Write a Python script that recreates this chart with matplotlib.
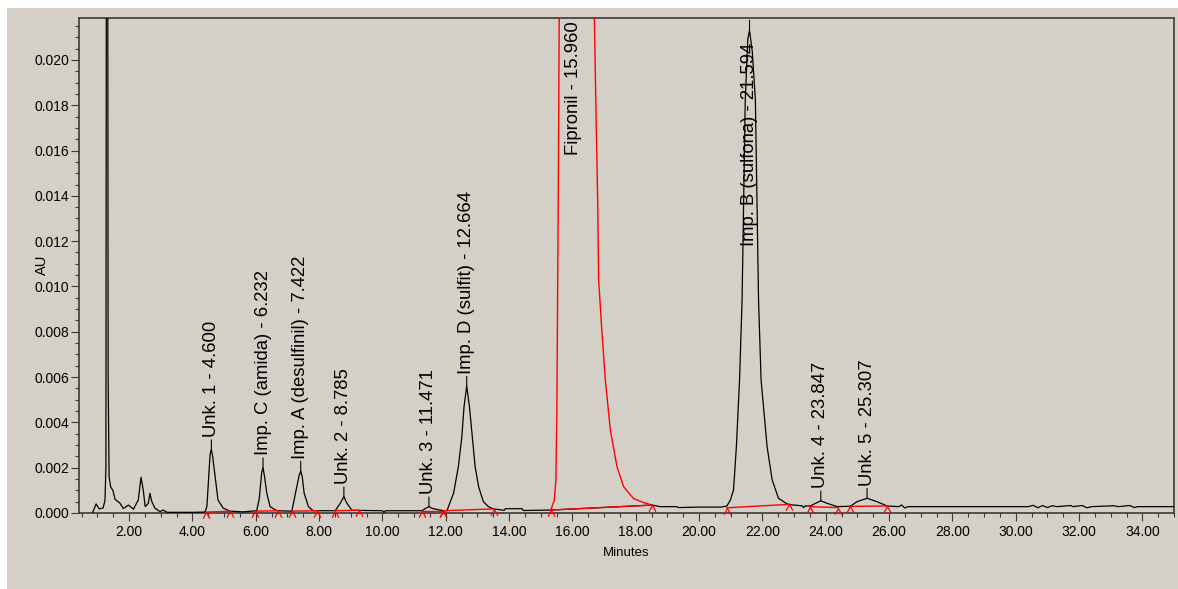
import matplotlib.pyplot as plt
import numpy as np
from matplotlib.path import Path
from matplotlib.patches import Rectangle
from matplotlib.ticker import MultipleLocator, FuncFormatter

# chromatogram trace, minutes vs AU
trace_min = [0.85, 0.96, 1.06, 1.18, 1.24, 1.27, 1.305, 1.34, 1.37, 1.42, 1.49, 1.56, 1.71, 1.82,
             1.98, 2.14, 2.29, 2.38, 2.45, 2.51, 2.61, 2.66, 2.72, 2.82, 2.98, 3.08, 3.20, 4.00, 4.40,
             4.46, 4.51, 4.56, 4.60, 4.64, 4.72, 4.81, 4.97, 5.19,
             5.60, 6.03, 6.11, 6.19, 6.232, 6.28, 6.35, 6.455, 6.67,
             7.14, 7.30, 7.37, 7.422, 7.47, 7.53, 7.665, 7.82,
             8.51, 8.67, 8.785, 8.88, 9.04,
             10.0, 10.05, 10.1, 11.25, 11.36, 11.471, 11.58, 11.93,
             12.04, 12.25, 12.40, 12.51, 12.58, 12.664, 12.75, 12.83, 12.93, 13.04, 13.19, 13.35, 13.51,
             13.85, 13.88, 14.41, 14.45, 15.32,
             18.52, 18.78, 19.30, 19.35, 20.00, 20.70, 20.88,
             20.99, 21.09, 21.18, 21.28, 21.36, 21.46, 21.54, 21.594, 21.68, 21.78, 21.88, 21.96,
             22.15, 22.31, 22.51, 22.78, 22.99,
             23.25, 23.30, 23.35, 23.52, 23.68, 23.847, 24.04, 24.36,
             24.78, 24.99, 25.307, 25.62, 25.94,
             26.30, 26.40, 26.50, 26.60, 30.40, 30.55, 30.70, 30.85, 31.00, 31.15, 31.30,
             31.75, 31.80, 32.10, 32.25, 32.40, 33.10, 33.25, 33.60, 33.75, 33.85, 35.0]
trace_au = [0.00002, 0.00040, 0.00018, 0.00022, 0.00055, 0.0020, 0.0600, 0.0060, 0.0016, 0.00115,
            0.00100, 0.00060, 0.00044, 0.00020,
            0.00035, 0.00017, 0.00057, 0.00158, 0.00100, 0.00028, 0.00043, 0.00087, 0.00050, 0.00021,
            0.00006, 0.00013, 0.00003, 0.00003, 0.00004,
            0.00030, 0.00146, 0.00260, 0.00280, 0.00250, 0.00160, 0.00057, 0.00022, 0.00008,
            0.00005, 0.00010, 0.00060, 0.00180, 0.00200, 0.00160, 0.00088, 0.00028, 0.00010,
            0.00008, 0.00116, 0.00165, 0.00185, 0.00160, 0.00088, 0.00028, 0.00010,
            0.00010, 0.00043, 0.00072, 0.00043, 0.00012,
            0.00010, 0.00003, 0.00010, 0.00010, 0.00020, 0.00028, 0.00020, 0.00010,
            0.00010, 0.00088, 0.00204, 0.00337, 0.00470, 0.00560, 0.00470, 0.00353, 0.00204,
            0.00116, 0.00050, 0.00028, 0.00018,
            0.00012, 0.00019, 0.00019, 0.00011, 0.00013,
            0.00035, 0.00028, 0.00028, 0.00024, 0.00026, 0.00026, 0.00031,
            0.00057, 0.00102, 0.00293, 0.00587, 0.00940, 0.01823, 0.02090, 0.02130, 0.02040,
            0.01823, 0.00940, 0.00587,
            0.00293, 0.00146, 0.00065, 0.00040, 0.00035,
            0.00032, 0.00024, 0.00031, 0.00031, 0.00043, 0.00054, 0.00043, 0.00028,
            0.00030, 0.00050, 0.00065, 0.00050, 0.00031,
            0.00028, 0.00035, 0.00022, 0.00028, 0.00028, 0.00034, 0.00023, 0.00033, 0.00024,
            0.00032, 0.00028,
            0.00033, 0.00028, 0.00033, 0.00023, 0.00028, 0.00032, 0.00028, 0.00033, 0.00024,
            0.00028, 0.00028]

# main peak (Fipronil), drawn in red; goes off scale
fip_min = [15.32, 15.43, 15.48, 15.51, 15.555, 15.585, 15.62, 15.96, 16.66, 16.70, 16.74,
           16.80, 16.83, 16.93, 17.04, 17.20, 17.41, 17.62, 17.93, 18.25, 18.52]
fip_au = [0.00013, 0.00057, 0.00146, 0.0044, 0.0138, 0.0219, 0.030, 0.12, 0.026, 0.0215, 0.0182,
          0.0138, 0.0103, 0.0081, 0.0059, 0.00366, 0.00204, 0.00116, 0.00064, 0.00046, 0.00035]

# peak table
peak_names = ['Unk. 1', 'Imp. C (amida)', 'Imp. A (desulfinil)', 'Unk. 2', 'Unk. 3',
              'Imp. D (sulfit)', 'Fipronil', 'Imp. B (sulfona)', 'Unk. 4', 'Unk. 5']
peak_rt = [4.600, 6.232, 7.422, 8.785, 11.471, 12.664, 15.960, 21.594, 23.847, 25.307]
peak_au = [0.00280, 0.00200, 0.00185, 0.00072, 0.00028, 0.00560, 0.12, 0.02130, 0.00054, 0.00065]

# integration baselines (start / end)
bl_start_min = [4.43, 5.98, 7.14, 8.51, 11.25, 11.93, 15.32, 20.88, 23.49, 24.78]
bl_start_au = [0.00004, 0.00008, 0.00008, 0.00010, 0.00010, 0.00010, 0.00013, 0.00023, 0.00028, 0.00029]
bl_end_min = [5.19, 6.71, 7.95, 9.25, 11.93, 13.51, 18.52, 22.83, 24.38, 25.94]
bl_end_au = [0.00008, 0.00010, 0.00010, 0.00012, 0.00010, 0.00018, 0.00035, 0.00038, 0.00024, 0.00031]

bg = '#d4d0c8'
font = ['Liberation Sans', 'DejaVu Sans']
ytop = 0.02185

fig = plt.figure(figsize=(11.78, 5.89), dpi=100)
fig.patch.set_facecolor('white')
fig.patches.append(Rectangle((7 / 1178, 0), 1, 1 - 8 / 589, transform=fig.transFigure,
                             facecolor=bg, edgecolor='none', zorder=-10))
ax = fig.add_axes([79 / 1178, 1 - 513 / 589, 1095 / 1178, 495 / 589])
ax.set_facecolor(bg)

ax.plot(trace_min, trace_au, color='black', lw=0.9, zorder=3)
ax.plot(fip_min, fip_au, color='#ff0000', lw=1.0, zorder=4)

# red baselines and integration marks
vmark = Path([(-0.55, -1.0), (0.0, 0.0), (0.55, -1.0)], [Path.MOVETO, Path.LINETO, Path.LINETO])
for x0, y0, x1, y1 in zip(bl_start_min, bl_start_au, bl_end_min, bl_end_au):
    ax.plot([x0, x1], [y0, y1], color='#ff0000', lw=1.0, zorder=5)
    ax.plot([x0, x1], [y0, y1], ls='none', marker=vmark, ms=9, mew=0.9,
            mec='#ff0000', mfc='none', zorder=5, clip_on=False)

# peak labels
top_offset = {'Fipronil': (2, -2), 'Imp. B (sulfona)': (0, -18)}
for name, rt, h in zip(peak_names, peak_rt, peak_au):
    txt = '%s - %.3f' % (name, rt)
    if name in top_offset:
        if h < ytop:
            ax.plot([rt, rt], [h, h + 0.00045], color='black', lw=0.8, zorder=6)
        ax.annotate(txt, xy=(rt, ytop), xytext=top_offset[name], textcoords='offset points',
                    rotation=90, ha='center', va='top', fontsize=13.3, family=font, zorder=7)
    else:
        ax.annotate(txt, xy=(rt, h), xytext=(0, 9), textcoords='offset points',
                    rotation=90, ha='center', va='bottom', fontsize=13.3, family=font,
                    arrowprops=dict(arrowstyle='-', color='black', lw=0.8, shrinkA=0, shrinkB=0),
                    zorder=7)

ax.set_xlim(0.42, 35.0)
ax.set_ylim(0, ytop)
ax.xaxis.set_major_locator(MultipleLocator(2))
ax.xaxis.set_minor_locator(MultipleLocator(0.5))
ax.yaxis.set_major_locator(MultipleLocator(0.002))
ax.yaxis.set_minor_locator(MultipleLocator(0.0005))
ax.xaxis.set_major_formatter(FuncFormatter(lambda v, p: '%.2f' % v))
ax.yaxis.set_major_formatter(FuncFormatter(lambda v, p: '%.3f' % v))

for s in ax.spines.values():
    s.set_color('#3a3a3a')
    s.set_linewidth(1.2)
ax.tick_params(which='major', length=5.5, width=0.8, color='#3a3a3a', pad=1.5)
ax.tick_params(which='minor', length=3, width=0.8, color='#3a3a3a')
ax.tick_params(axis='x', which='major', pad=3.5)
for lab in ax.get_xticklabels() + ax.get_yticklabels():
    lab.set_family(font)
    lab.set_fontsize(10)

fig.text(626.5 / 1178, 1 - 553 / 589, 'Minutes', ha='center', va='center',
         fontsize=9.5, family=font)
fig.text(41.7 / 1178, 1 - 265 / 589, 'AU', ha='center', va='center', rotation=90,
         fontsize=10.5, family=font)

fig.savefig('out.png', dpi=100, facecolor=fig.get_facecolor())
